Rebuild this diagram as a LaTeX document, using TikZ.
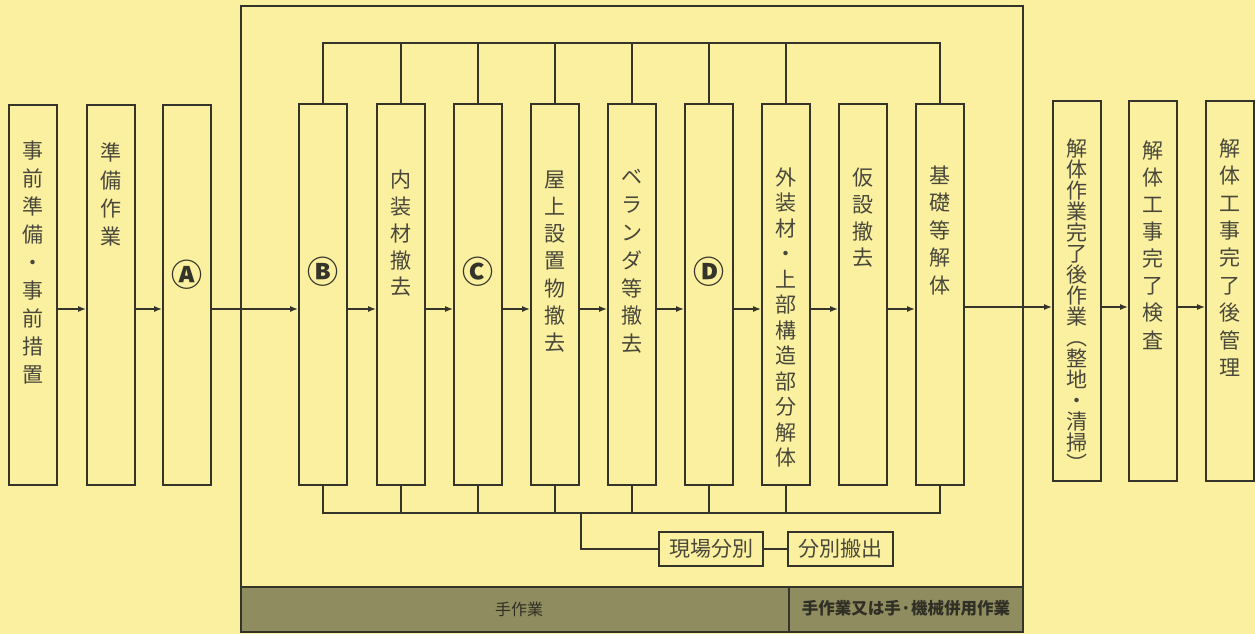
\documentclass[tikz,border=0pt]{standalone}
\usepackage{fontspec}
\setmainfont{Noto Sans CJK JP}
\usetikzlibrary{arrows.meta}
\definecolor{bg}{HTML}{FAF0A0}
\definecolor{ink}{HTML}{35342A}
\definecolor{txt}{HTML}{48473A}
\definecolor{band}{HTML}{8F8D5F}
\tikzset{
  stepbox/.style={draw=ink, line width=1.7pt, minimum width=48pt, inner sep=0pt},
  vtxt/.style={text=txt, align=center, inner sep=0pt, font=\fontsize{21}{#1}\selectfont},
  circ/.style={text=ink, inner sep=0pt, font=\fontsize{31}{31}\selectfont\bfseries},
  conn/.style={draw=ink, line width=1.7pt},
  arr/.style={draw=ink, line width=1.6pt, -{Latex[length=8pt,width=6pt]}},
  smallbox/.style={draw=ink, line width=1.7pt, minimum height=34pt, inner sep=0pt, text=txt, font=\fontsize{21}{21}\selectfont},
  bandtxt/.style={text=ink!90!black, inner sep=0pt, font=\fontsize{16}{16}\selectfont},
}
\begin{document}
\begin{tikzpicture}[x=1pt,y=-1pt]
\fill[bg] (0,0) rectangle (1255,634);
\useasboundingbox (0,0) rectangle (1255,634);

% frame and band
\fill[band] (242,587) rectangle (1022,632);
\draw[ink, line width=1.7pt] (241,587) -- (1023,587);
\draw[ink, line width=1.7pt] (789,587) -- (789,632);
\draw[ink, line width=2.2pt] (241,6) rectangle (1023,632);
\node[bandtxt] (hand) at (519,609) {手作業};
\node[bandtxt, font=\fontsize{16.5}{16}\selectfont\bfseries] (handmach) at (906,608) {手作業又は手·機械併用作業};

% boxes left
\node[stepbox, minimum height=380pt] (b1) at (33,295) {};
\node[stepbox, minimum height=380pt] (b2) at (111,295) {};
\node[stepbox, minimum height=380pt] (bA) at (187,295) {};
% boxes middle
\node[stepbox, minimum height=381pt] (bB) at (323,294.5) {};
\node[stepbox, minimum height=381pt] (bN) at (401,294.5) {};
\node[stepbox, minimum height=381pt] (bC) at (478,294.5) {};
\node[stepbox, minimum height=381pt] (bR) at (555,294.5) {};
\node[stepbox, minimum height=381pt] (bV) at (632,294.5) {};
\node[stepbox, minimum height=381pt] (bD) at (709,294.5) {};
\node[stepbox, minimum height=381pt] (bG) at (786,294.5) {};
\node[stepbox, minimum height=381pt] (bK) at (863,294.5) {};
\node[stepbox, minimum height=381pt] (bF) at (940,294.5) {};
% boxes right
\node[stepbox, minimum height=380pt] (bE) at (1077,291) {};
\node[stepbox, minimum height=380pt] (bI) at (1153,291) {};
\node[stepbox, minimum height=380pt] (bM) at (1230,291) {};

% texts
\node[vtxt=28.1] (t1) at (33,262.5) {事\\前\\準\\備\\・\\事\\前\\措\\置};
\node[vtxt=28.3] (t2) at (111,194.5) {準\\備\\作\\業};
\node[circ] (tA) at (187,275) {Ⓐ};
\node[circ] (tB) at (323,272) {Ⓑ};
\node[vtxt=26.8] (tN) at (401,233.5) {内\\装\\材\\撤\\去};
\node[circ] (tC) at (478,272) {Ⓒ};
\node[vtxt=27.2] (tR) at (555,261.5) {屋\\上\\設\\置\\物\\撤\\去};
\node[vtxt=27.8] (tV) at (632,261.5) {ベ\\ラ\\ン\\ダ\\等\\撤\\去};
\node[circ] (tD) at (709,272) {Ⓓ};
\node[vtxt=25.5] (tG) at (786,317.5) {外\\装\\材\\・\\上\\部\\構\\造\\部\\分\\解\\体};
\node[vtxt=26.7] (tK) at (863,218) {仮\\設\\撤\\去};
\node[vtxt=27.5] (tF) at (940,230) {基\\礎\\等\\解\\体};
\node[vtxt=21] (tE) at (1077,305.5) {解\\体\\作\\業\\完\\了\\後\\作\\業\\︵\\整\\地\\・\\清\\掃\\︶};
\node[vtxt=27.1] (tI) at (1153,245) {解\\体\\工\\事\\完\\了\\検\\査};
\node[vtxt=27.4] (tM) at (1230,257.5) {解\\体\\工\\事\\完\\了\\後\\管\\理};

% arrows
\coordinate (ay) at (0,309);
\coordinate (ay2) at (0,307);
\draw[arr] (b1.east |- ay) -- (b2.west |- ay);
\draw[arr] (b2.east |- ay) -- (bA.west |- ay);
\draw[arr] (bA.east |- ay) -- (bB.west |- ay);
\draw[arr] (bB.east |- ay) -- (bN.west |- ay);
\draw[arr] (bN.east |- ay) -- (bC.west |- ay);
\draw[arr] (bC.east |- ay) -- (bR.west |- ay);
\draw[arr] (bR.east |- ay) -- (bV.west |- ay);
\draw[arr] (bV.east |- ay) -- (bD.west |- ay);
\draw[arr] (bD.east |- ay) -- (bG.west |- ay);
\draw[arr] (bG.east |- ay) -- (bK.west |- ay);
\draw[arr] (bK.east |- ay) -- (bF.west |- ay);
\draw[arr] (bF.east |- ay2) -- (bE.west |- ay2);
\draw[arr] (bE.east |- ay2) -- (bI.west |- ay2);
\draw[arr] (bI.east |- ay2) -- (bM.west |- ay2);

% top bus
\coordinate (tb) at (0,43);
\draw[conn] (bB.north) |- (bF.north |- tb) -- (bF.north);
\foreach \n in {bN,bC,bR,bV,bD,bG}{\draw[conn] (\n.north) -- (\n.north |- tb);}

% bottom bus
\coordinate (bb) at (0,513);
\draw[conn] (bB.south) |- (bF.south |- bb) -- (bF.south);
\foreach \n in {bN,bC,bR,bV,bD,bG}{\draw[conn] (\n.south) -- (\n.south |- bb);}

% sorting boxes
\node[smallbox, minimum width=104pt] (sort) at (711,549) {現場分別};
\node[smallbox, minimum width=105pt] (haul) at (840.5,549) {分別搬出};
\coordinate (dx) at (581,513);
\draw[conn] (dx) |- (sort.west);
\draw[conn] (sort) -- (haul);
\end{tikzpicture}
\end{document}
